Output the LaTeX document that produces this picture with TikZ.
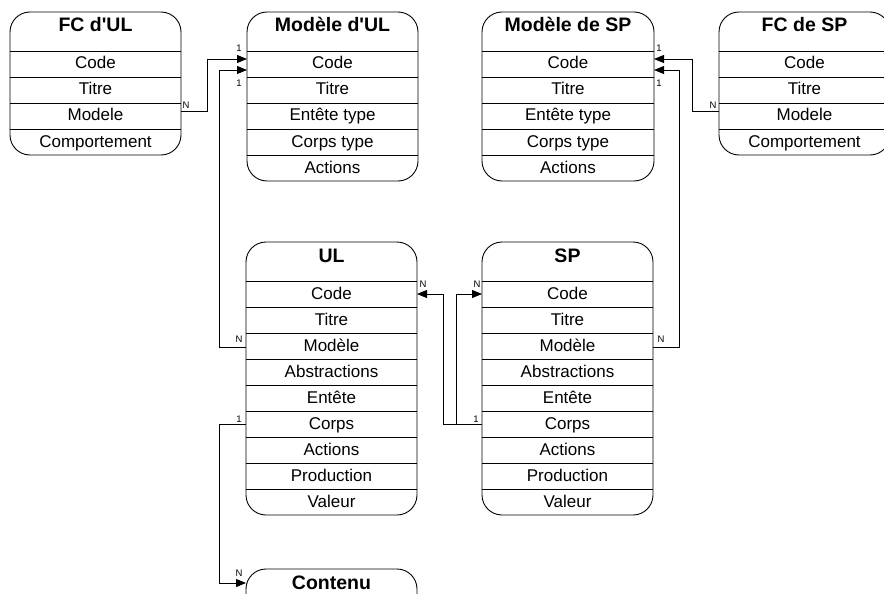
\documentclass[tikz,border=0pt]{standalone}
\usepackage{fontspec}
\setmainfont{Liberation Sans}
\usetikzlibrary{arrows.meta}

\tikzset{
  box/.style={draw, line width=0.9pt, rounded corners=20pt},
  rowline/.style={line width=0.9pt},
  title/.style={font=\bfseries\fontsize{19.5}{19.5}\selectfont, inner sep=0pt, anchor=base},
  field/.style={font=\fontsize{17}{17}\selectfont, inner sep=0pt, anchor=base},
  card/.style={font=\fontsize{9.5}{9.5}\selectfont, inner sep=0pt},
  conn/.style={line width=0.9pt, -{Triangle[length=10pt,width=8pt]}},
  plain/.style={line width=0.9pt},
}

% #1 name, #2 left, #3 top, #4 right, #5 title, #6 number of rows, #7 rows
\newcommand\entitybox[7]{%
  \draw[box] (#2,#3) rectangle (#4,#3+39+26*#6);
  \node[title] (#1-t) at ({(#2+#4)/2},#3+20) {#5};
  \foreach \r [count=\i from 0] in {#7} {
    \draw[rowline] (#2,#3+39+26*\i) -- (#4,#3+39+26*\i);
    \node[field] (#1-\i) at ({(#2+#4)/2},#3+39+26*\i+18) {\r};
    \coordinate (#1-\i-w) at (#2,#3+39+26*\i+13);
    \coordinate (#1-\i-e) at (#4,#3+39+26*\i+13);
  }
}

\begin{document}
\begin{tikzpicture}[x=1pt,y=-1pt]
\useasboundingbox (0,0) rectangle (884,594);
\clip (0,0) rectangle (884,594);

\entitybox{fcul}{10}{12}{181}{FC d\textquotesingle UL}{4}{Code,Titre,Modele,Comportement}
\entitybox{mul}{247}{12}{418}{Modèle d\textquotesingle UL}{5}{Code,Titre,Entête type,Corps type,Actions}
\entitybox{msp}{482}{12}{654}{Modèle de SP}{5}{Code,Titre,Entête type,Corps type,Actions}
\entitybox{fcsp}{719}{12}{890}{FC de SP}{4}{Code,Titre,Modele,Comportement}
\entitybox{ul}{246}{242}{417}{UL}{9}{Code,Titre,Modèle,Abstractions,Entête,Corps,Actions,Production,Valeur}
\entitybox{sp}{482}{242}{653}{SP}{9}{Code,Titre,Modèle,Abstractions,Entête,Corps,Actions,Production,Valeur}

% Contenu (cut by the lower edge)
\draw[box] (246,569) rectangle (417,660);
\node[title] (cont-t) at (331.5,589) {Contenu};
\coordinate (cont-w) at (246,583);

% connectors
\draw[conn] ([yshift=5pt]fcul-2-e) -- ++(26,0) |- ([yshift=5pt]mul-0-w);
\draw[conn] ([yshift=-1pt]ul-2-w) -- ++(-27,0) |- ([yshift=-6pt]mul-0-w);
\draw[conn] ([yshift=5pt]fcsp-2-w) -- ++(-27,0) |- ([yshift=5pt]msp-0-e);
\draw[conn] ([yshift=-1pt]sp-2-e) -- ++(26,0) |- ([yshift=-6pt]msp-0-e);
\draw[conn] (sp-5-w) -- ++(-39,0) |- (ul-0-e);
\draw[conn] ([xshift=-26pt]sp-5-w) |- (sp-0-w);
\draw[conn] (ul-5-w) -- ++(-27,0) |- (cont-w);

% cardinalities
\node[card] (c1) at (239,48) {1};
\node[card] (c2) at (239,83) {1};
\node[card] (c3) at (186,105) {N};
\node[card] (c4) at (659,48) {1};
\node[card] (c5) at (659,83) {1};
\node[card] (c6) at (713,105) {N};
\node[card] (c7) at (239,339) {N};
\node[card] (c8) at (661,339) {N};
\node[card] (c9) at (423,284) {N};
\node[card] (c10) at (477,284) {N};
\node[card] (c11) at (476,419) {1};
\node[card] (c12) at (239,419) {1};
\node[card] (c13) at (239,573) {N};
\end{tikzpicture}
\end{document}
